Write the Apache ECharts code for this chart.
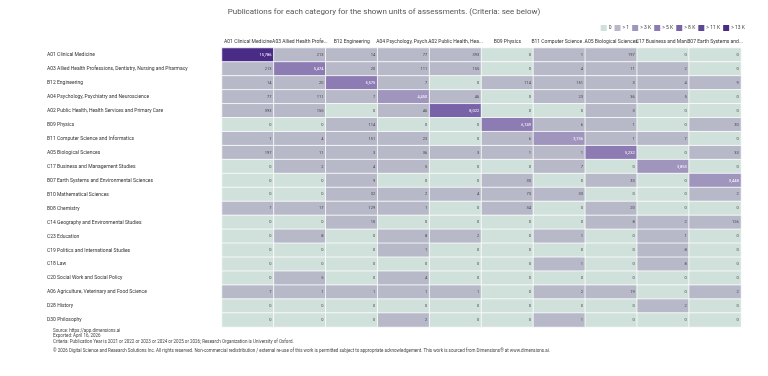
<!DOCTYPE html>
<html>
<head>
<meta charset="utf-8">
<script src="https://cdn.jsdelivr.net/npm/echarts@6/dist/echarts.min.js"></script>
<style>
  html, body { margin: 0; padding: 0; background: #fff; }
  #chart { width: 768px; height: 376px; }
</style>
</head>
<body>
<div id="chart"></div>
<script>
// rows (categories), top to bottom
const rowNames = [
  'A01 Clinical Medicine',
  'A03 Allied Health Professions, Dentistry, Nursing and Pharmacy',
  'B12 Engineering',
  'A04 Psychology, Psychiatry and Neuroscience',
  'A02 Public Health, Health Services and Primary Care',
  'B09 Physics',
  'B11 Computer Science and Informatics',
  'A05 Biological Sciences',
  'C17 Business and Management Studies',
  'B07 Earth Systems and Environmental Sciences',
  'B10 Mathematical Sciences',
  'B08 Chemistry',
  'C14 Geography and Environmental Studies',
  'C23 Education',
  'C19 Politics and International Studies',
  'C18 Law',
  'C20 Social Work and Social Policy',
  'A06 Agriculture, Veterinary and Food Science',
  'D28 History',
  'D30 Philosophy'
]

// columns (units of assessment), shortened like the header
const colNames = [
  'A01 Clinical Medicine',
  'A03 Allied Health Profe...',
  'B12 Engineering',
  'A04 Psychology, Psych...',
  'A02 Public Health, Hea...',
  'B09 Physics',
  'B11 Computer Science ...',
  'A05 Biological Sciences',
  'C17 Business and Man...',
  'B07 Earth Systems and...'
]

// one array per row, values per column
const a01 = [15786, 213, 14, 77, 393, 0, 1, 197, 0, 0]
const a03 = [213, 5474, 20, 111, 155, 0, 4, 11, 2, 0]
const b12 = [14, 20, 5575, 7, 0, 114, 151, 3, 4, 9]
const a04 = [77, 111, 7, 4450, 46, 0, 23, 36, 5, 0]
const a02 = [393, 155, 0, 46, 8022, 0, 0, 3, 0, 0]
const b09 = [0, 0, 114, 0, 0, 6749, 6, 1, 0, 30]
const b11 = [1, 4, 151, 23, 0, 6, 3736, 1, 7, 0]
const a05 = [197, 11, 3, 36, 3, 1, 1, 5232, 0, 33]
const c17 = [0, 2, 4, 5, 0, 0, 7, 0, 3853, 0]
const b07 = [0, 0, 9, 0, 0, 30, 0, 33, 0, 3448]
const b10 = [0, 0, 32, 2, 4, 73, 33, 0, 0, 2]
const b08 = [7, 17, 129, 1, 0, 34, 0, 20, 0, 0]
const c14 = [0, 0, 10, 0, 0, 0, 0, 8, 2, 126]
const c23 = [0, 8, 0, 8, 2, 0, 1, 0, 1, 0]
const c19 = [0, 0, 0, 1, 0, 0, 0, 0, 8, 0]
const c18 = [0, 0, 0, 0, 0, 0, 1, 0, 8, 0]
const c20 = [0, 5, 0, 4, 0, 0, 0, 0, 0, 0]
const a06 = [7, 1, 1, 1, 1, 0, 2, 19, 0, 2]
const d28 = [0, 0, 0, 0, 0, 0, 0, 0, 2, 0]
const d30 = [0, 0, 0, 2, 0, 0, 1, 0, 0, 0]

const rows = [a01, a03, b12, a04, a02, b09, b11, a05, c17, b07,
  b10, b08, c14, c23, c19, c18, c20, a06, d28, d30]

const legendLabels = ['0', '> 1', '> 3 K', '> 5 K', '> 8 K', '> 11 K', '> 13 K']

const footerLines = [
  'Source: https://app.dimensions.ai',
  'Exported: April 16, 2026',
  'Criteria: Publication Year is 2021 or 2022 or 2023 or 2024 or 2025 or 2026; Research Organization is University of Oxford.'
]
const copyright = '© 2026 Digital Science and Research Solutions Inc. All rights reserved. Non-commercial redistribution / external re-use of this work is permitted subject to appropriate acknowledgement. This work is sourced from Dimensions® at www.dimensions.ai.'

const data = []
rows.forEach((r, y) => {
  r.forEach((v, x) => {
    // white labels on the dark purple cells
    data.push(v >= 3000 ? { value: [x, y, v], label: { color: '#fff' } } : [x, y, v])
  })
})

const chart = echarts.init(document.getElementById('chart'))

const option = {
  animation: false,
  title: {
    text: 'Publications for each category for the shown units of assessments. (Criteria: see below)',
    left: 'center',
    top: 3,
    textStyle: { fontSize: 8, fontWeight: 'normal', color: '#555', fontFamily: 'Roboto' }
  },
  grid: { left: 222, right: 27, top: 48, bottom: 49 },
  xAxis: {
    type: 'category',
    position: 'top',
    data: colNames,
    axisTick: { show: false },
    axisLine: { show: true, lineStyle: { color: '#e3e3ee' } },
    axisLabel: { interval: 0, fontSize: 5, color: '#333', margin: 4, fontFamily: 'Roboto' }
  },
  yAxis: {
    type: 'category',
    inverse: true,
    data: rowNames,
    axisTick: { show: false },
    axisLine: { show: false },
    axisLabel: { interval: 0, fontSize: 5, color: '#333', align: 'left', margin: 175, fontFamily: 'Roboto' }
  },
  visualMap: {
    type: 'piecewise',
    orient: 'horizontal',
    right: 23,
    top: 25,
    padding: 0,
    itemWidth: 6,
    itemHeight: 6,
    itemGap: 3,
    itemSymbol: 'rect',
    textGap: 2,
    textStyle: { fontSize: 5, color: '#444', fontFamily: 'Roboto' },
    pieces: [
      { value: 0, label: legendLabels[0], color: '#d0e0db' },
      { gte: 1, lt: 3000, label: legendLabels[1], color: '#b7b9c9' },
      { gte: 3000, lt: 5000, label: legendLabels[2], color: '#a095bd' },
      { gte: 5000, lt: 8000, label: legendLabels[3], color: '#8d7cb3' },
      { gte: 8000, lt: 11000, label: legendLabels[4], color: '#7863a8' },
      { gte: 11000, lt: 13000, label: legendLabels[5], color: '#5f4697' },
      { gte: 13000, label: legendLabels[6], color: '#4a2c86' }
    ]
  },
  series: [{
    type: 'heatmap',
    data: data,
    itemStyle: { borderColor: '#fff', borderWidth: 0.8 },
    label: {
      show: true,
      position: 'insideRight',
      distance: 3,
      fontSize: 4,
      fontFamily: 'Roboto',
      formatter: p => p.value[2].toLocaleString('en-US'),
      color: '#444'
    },
    emphasis: { disabled: true }
  }],
  graphic: [
    {
      type: 'text',
      left: 53,
      top: 328,
      style: { text: footerLines.join('\n'), fontSize: 4.5, lineHeight: 5.5, fill: '#444', fontFamily: 'Roboto' }
    },
    {
      type: 'text',
      left: 53,
      top: 348,
      style: { text: copyright, fontSize: 4.5, fill: '#444', fontFamily: 'Roboto' }
    }
  ]
}

chart.setOption(option)
</script>
</body>
</html>
